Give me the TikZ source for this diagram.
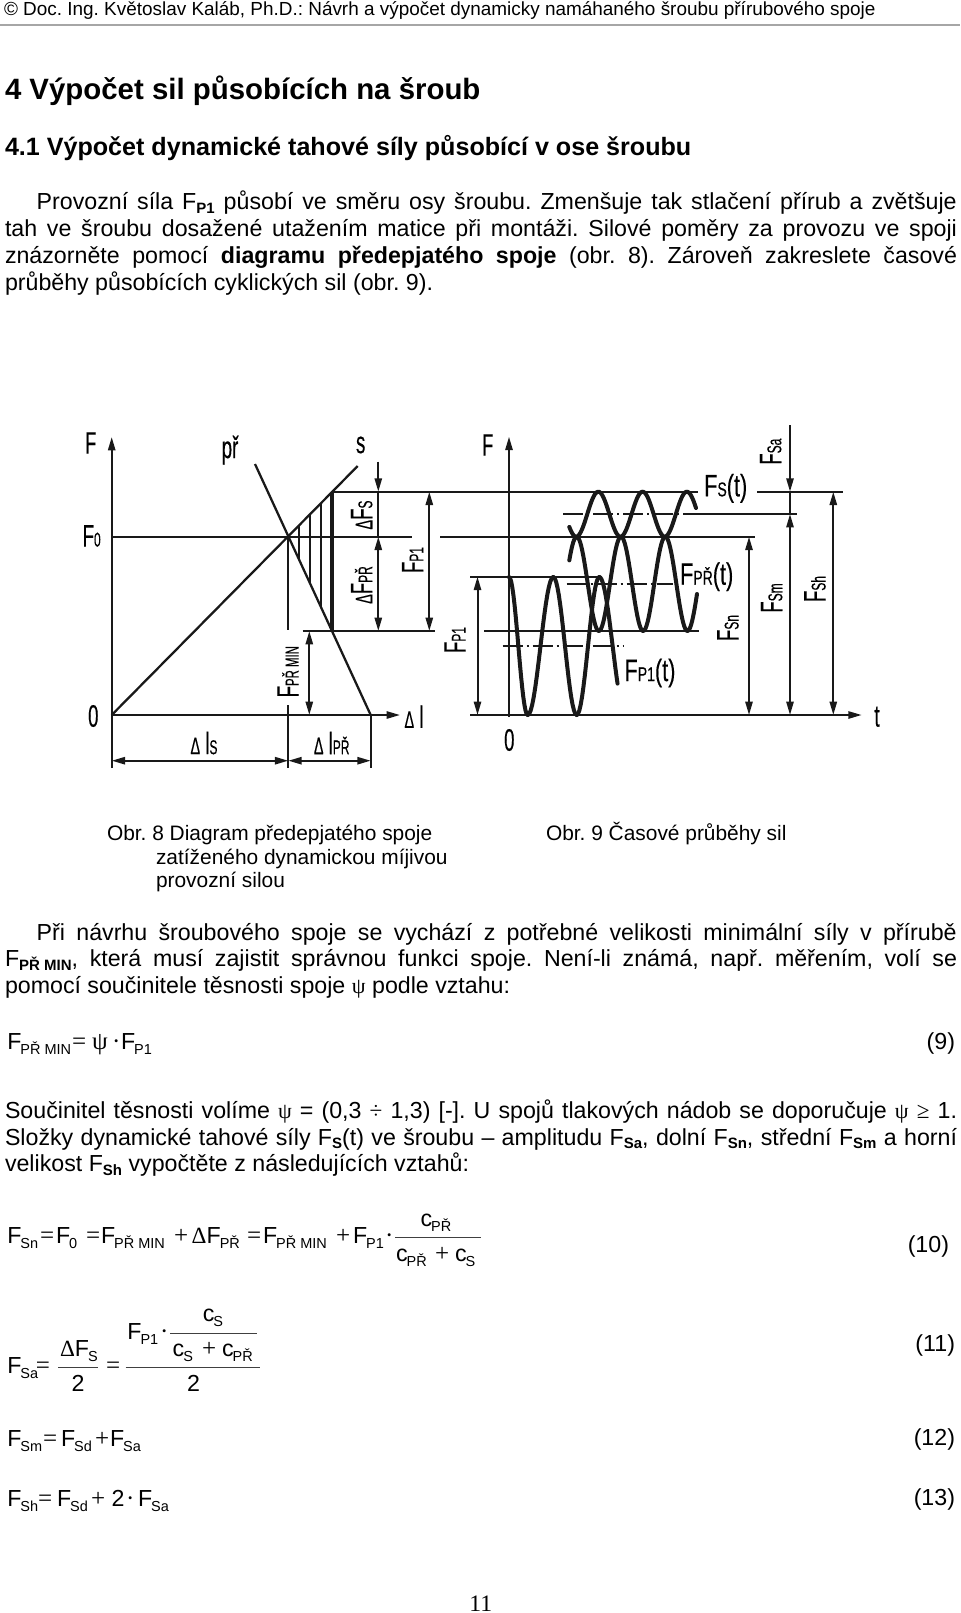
\documentclass[tikz,border=0pt]{standalone}
\usepackage{fontspec}
\usetikzlibrary{arrows.meta}
\setmainfont{Liberation Sans}
\newfontfamily\serf{Liberation Serif}
\newfontfamily\labfont[FakeStretch=0.6,FakeBold=0.3]{Liberation Sans}
\newfontfamily\tlabfont[FakeStretch=0.7,FakeBold=0.3]{Liberation Sans}
\frenchspacing
\newdimen\ux \ux=0.75pt
\newcommand\sz[1]{\fontsize{#1\ux}{#1\ux}\selectfont}
\newcommand\bodyf{\sz{23.2}\frenchspacing}
\newcommand\W[1]{\makebox[#1\ux][s]}
\newcommand\bsub[1]{\raisebox{-3.5\ux}{\sz{15}\bfseries #1}}
\newcommand\msub[1]{\kern-1\ux\raisebox{-5\ux}{\sz{14.5}#1}}
\newcommand\psy{{\serf\sz{22}ψ}}
\newcommand\Lab[2]{{\sz{#1}#2}}
\newcommand\dsub[1]{{\sz{20}#1}}
\newcommand\hw[5]{\draw[wave] plot[domain=0:#5,samples=18] ({#1+(#2-#1)*\x/180},{#3-(#4)*cos(\x)});}
\tikzset{
  txt/.style={anchor=base west,inner sep=0pt,outer sep=0pt},
  body/.style={txt,font=\bodyf},
  capt/.style={txt,font=\sz{20.9}},
  eqr/.style={anchor=base east,inner sep=0pt,outer sep=0pt,font=\bodyf},
  eqc/.style={anchor=base,inner sep=0pt,outer sep=0pt,font=\bodyf},
  sym/.style={txt,font=\serf\sz{25}},
  lab/.style={inner sep=0pt,outer sep=0pt,font=\labfont\sz{31}},
  tlab/.style={inner sep=0pt,outer sep=0pt,font=\tlabfont\sz{31}},
  rlab/.style={lab,rotate=90},
  ln/.style={line width=1.5pt,black!90},
  thk/.style={line width=3pt,black!90},
  wave/.style={line width=3pt,black!90,line cap=round,line join=round},
  ddot/.style={ln,dash pattern=on 15pt off 3pt on 1.5pt off 3pt},
  arr/.style={ln,arrows={Triangle[length=10pt,width=5.4pt]-Triangle[length=10pt,width=5.4pt]}},
  arrE/.style={ln,-{Triangle[length=10pt,width=5.4pt]}},
  frac/.style={line width=0.8pt,black!75},
}
\begin{document}
\begin{tikzpicture}[x=0.75pt,y=-0.75pt]
\useasboundingbox (0,0) rectangle (960,1613);
\fill[white] (0,0) rectangle (960,1613);
% header
\node[txt,font=\sz{18.93}] (hdr) at (4,16) {© Doc. Ing. Květoslav Kaláb, Ph.D.: Návrh a výpočet dynamicky namáhaného šroubu přírubového spoje};
\coordinate (rL) at (0,25); \coordinate (rR) at (960,25);
\draw[black!35,line width=1pt] (rL) -- (rR);
\node[txt,font=\sz{29.4}\bfseries] (h1) at (5,99.5) {4 Výpočet sil působících na šroub};
\node[txt,font=\sz{25.1}\bfseries] (h2) at (5,155) {4.1 Výpočet dynamické tahové síly působící v ose šroubu};
% paragraph 1
\node[body] (a1) at (36.7,209.5) {\W{920}{Provozní síla F\bsub{P1} působí ve směru osy šroubu. Zmenšuje tak stlačení přírub a zvětšuje}};
\node[body] (a2) at (5,236) {\W{952}{tah ve šroubu dosažené utažením matice při montáži. Silové poměry za provozu ve spoji}};
\node[body] (a3) at (5,263) {\W{952}{znázorněte pomocí \textbf{diagramu předepjatého spoje} (obr. 8). Zároveň zakreslete časové}};
\node[body] (a4) at (5,290) {průběhy působících cyklických sil (obr. 9).};
% ---------- diagram
\coordinate (O) at (111.7,715);
\coordinate (Ftop) at (111.7,437);
\coordinate (Fbot) at (111.7,768);
\coordinate (dlEnd) at (400,715);
\coordinate (sEnd) at (357.7,466);
\coordinate (pA) at (255,464);
\coordinate (pB) at (370.7,715);
\coordinate (X) at (288.3,536.7);
\draw[arrE] (Fbot) -- (Ftop);
\draw[arrE] (O) -- (dlEnd);
\draw[ln,line width=1.7pt] (O) -- (sEnd);
\draw[ln,line width=1.7pt] (pA) -- (pB);
\draw[ln] (O |- X) -- (412,536.7);
\draw[ln] (440,536.7) -- (755,536.7);
\draw[ln] (331.7,491.7) -- (698,491.7);
\draw[ln] (757,491.7) -- (842.7,491.7);
\draw[thk] (331.7,491.7) -- (331.7,631);
\draw[ln] (302.7,631) -- (435,631);
\foreach \hx/\ht/\hb in {299.3/525.4/560,310/514.5/583.3,321/503.4/607.2}
  \draw[ln] (\hx,\ht) -- (\hx,\hb);
\draw[ln] (X) -- (288.3,630);
\draw[ln] (288.3,705) -- (288.3,768);
\draw[ln] (370.7,715) -- (370.7,768);
\draw[arr] (309.3,631) -- (309.3,715);
\draw[arr] (111.7,760.7) -- (288.3,760.7);
\draw[arr] (288.3,760.7) -- (370.7,760.7);
\draw[arrE] (378.3,461.7) -- (378.3,491.7);
\draw[ln] (378.3,491.7) -- (378.3,536.7);
\draw[arr] (378.3,536.7) -- (378.3,631);
\draw[arr] (429.3,491.7) -- (429.3,631);
% right diagram
\draw[arr] (477.5,576.7) -- (477.5,715);
\draw[ln] (470,576.7) -- (596.7,576.7);
\draw[arrE] (470,715) -- (861.7,715);
\draw[arrE] (509,717) -- (509,436.7);
\draw[ln] (484,631) -- (699,631);
\draw[ddot] (563,514) -- (696,514);
\draw[ln] (696,514) -- (797,514);
\draw[ddot] (566.7,584.3) -- (673,584.3);
\draw[ddot] (502.7,646) -- (623,646);
\draw[arr] (749,536.7) -- (749,715);
\draw[arrE] (790,425) -- (790,491.7);
\draw[ln] (790,491.7) -- (790,514);
\draw[arr] (790,514) -- (790,715);
\draw[arr] (833.3,491.7) -- (833.3,715);
% waves
\draw[wave] plot[domain=569.3:697,samples=130] (\x,{583.85-47.15*cos(8.1264*(\x-576.7))});
\draw[wave] plot[domain=569.3:696,samples=130] (\x,{514.2-22.5*cos(8.1264*(\x-598.3))});
\hw{509}{527.7}{646}{69}{180}
\hw{527.7}{553.3}{646}{-69}{180}
\hw{553.3}{576.7}{646}{69}{180}
\hw{576.7}{599.3}{646}{-69}{180}
\hw{599.3}{626}{646}{69}{123}
% labels left
\node[lab] (lF) at (90.7,443) {F};
\node[lab] (lF0) at (91.7,536) {F\dsub{0}};
\node[lab] (l0) at (93.3,716) {0};
\node[lab] (lpr) at (230,450) {př};
\node[lab] (ls) at (360.7,445) {s};
\node[rlab] (lDFs) at (361.7,515) {\Lab{24}{Δ}F\dsub{S}};
\node[rlab] (lDFp) at (361.7,585) {\Lab{24}{Δ}F\dsub{PŘ}};
\node[rlab] (lFp1) at (412.7,560) {F\dsub{P1}};
\node[rlab] (lFmin) at (288,671.7) {F{\sz{19}PŘ MIN}};
\node[rlab] (lFp2) at (455,640) {F\dsub{P1}};
\node[lab] (ldl) at (414,716.7) {\Lab{24}{Δ} l};
\node[lab] (ldls) at (204,743) {\Lab{24}{Δ} l\dsub{S}};
\node[lab] (ldlp) at (331.7,743) {\Lab{24}{Δ} l\dsub{PŘ}};
% labels right
\node[lab] (rF) at (487.7,445) {F};
\node[lab] (r0) at (509.3,740) {0};
\node[tlab] (rFs) at (725.7,488.3) {F\dsub{S}(t)};
\node[rlab] (rFa) at (770.7,451.7) {F\dsub{Sa}};
\node[tlab] (rFpt) at (706.7,576.7) {F\dsub{PŘ}(t)};
\node[tlab] (rF1t) at (650,673) {F\dsub{P1}(t)};
\node[rlab] (rFn) at (728,628) {F\dsub{Sn}};
\node[rlab] (rFm) at (771.7,598) {F\dsub{Sm}};
\node[rlab] (rFh) at (815,589) {F\dsub{Sh}};
\node[lab] (rt) at (877,716.7) {t};
% captions
\node[capt] (c1) at (107,840) {Obr. 8 Diagram předepjatého spoje};
\node[capt] (c2) at (156,864) {zatíženého dynamickou míjivou};
\node[capt] (c3) at (156,887) {provozní silou};
\node[capt] (c4) at (546,840) {Obr. 9 Časové průběhy sil};
% paragraph 2
\node[body] (b1) at (36.7,940) {\W{920}{Při návrhu šroubového spoje se vychází z potřebné velikosti minimální síly v přírubě}};
\node[body] (b2) at (5,966.7) {\W{952}{F\bsub{PŘ MIN}, která musí zajistit správnou funkci spoje. Není-li známá, např. měřením, volí se}};
\node[body] (b3) at (5,993.5) {pomocí součinitele těsnosti spoje \psy{} podle vztahu:};
% eq 9
\node[body] (e9a) at (7.3,1049) {F\msub{PŘ MIN}};
\node[sym] (e9b) at (72,1049) {=};
\node[sym] (e9c) at (92,1049) {ψ};
\node[sym] (e9d) at (112,1049) {·};
\node[body] (e9e) at (121,1049) {F\msub{P1}};
\node[eqr] (e9n) at (955,1049) {(9)};
% paragraph 3
\node[body] (d1) at (5,1118) {\W{952}{Součinitel těsnosti volíme \psy{} = (0,3 {\serf ÷} 1,3) [-]. U spojů tlakových nádob se doporučuje \psy{} {\serf ≥} 1.}};
\node[body] (d2) at (5,1145) {\W{952}{Složky dynamické tahové síly F\bsub{S}(t) ve šroubu – amplitudu F\bsub{Sa}, dolní F\bsub{Sn}, střední F\bsub{Sm} a horní}};
\node[body] (d3) at (5,1171.7) {velikost F\bsub{Sh} vypočtěte z následujících vztahů:};
% eq 10
\node[body] (t1) at (7.3,1243) {F\msub{Sn}};
\node[sym] (t2) at (40,1243) {=};
\node[body] (t3) at (56,1243) {F\msub{0}};
\node[sym] (t4) at (86,1243) {=};
\node[body] (t5) at (101,1243) {F\msub{PŘ MIN}};
\node[sym] (t6) at (174,1243) {+};
\node[body] (t7) at (191.7,1243) {{\serf Δ}F\msub{PŘ}};
\node[sym] (t8) at (247,1243) {=};
\node[body] (t9) at (263,1243) {F\msub{PŘ MIN}};
\node[sym] (t10) at (336,1243) {+};
\node[body] (t11) at (353,1243) {F\msub{P1}};
\node[sym] (t12) at (385,1243) {·};
\node[eqc] (t13) at (436,1226.7) {c\msub{PŘ}};
\coordinate (t14a) at (395,1237.7); \coordinate (t14b) at (480.7,1237.7);
\draw[frac] (t14a) -- (t14b);
\node[body] (t15) at (396,1261.7) {c\msub{PŘ}};
\node[sym] (t16) at (435,1261.7) {+};
\node[body] (t17) at (455,1261.7) {c\msub{S}};
\node[eqr] (t10n) at (949,1252.7) {(10)};
% eq 11
\node[body] (u1) at (7.3,1373) {F\msub{Sa}};
\node[sym] (u2) at (36,1373) {=};
\node[body] (u3) at (60,1356.7) {{\serf Δ}F\msub{S}};
\coordinate (u4a) at (58,1367.3); \coordinate (u4b) at (98,1367.3);
\draw[frac] (u4a) -- (u4b);
\node[eqc] (u5) at (78,1391.7) {2};
\node[sym] (u6) at (106,1373) {=};
\coordinate (u7a) at (125.5,1367.3); \coordinate (u7b) at (260,1367.3);
\draw[frac] (u7a) -- (u7b);
\node[body] (u8) at (127.4,1339) {F\msub{P1}};
\node[sym] (u9) at (160,1339) {·};
\coordinate (u10a) at (170,1333.3); \coordinate (u10b) at (257,1333.3);
\draw[frac] (u10a) -- (u10b);
\node[eqc] (u11) at (213,1321.7) {c\msub{S}};
\node[body] (u12) at (172.7,1356.7) {c\msub{S}};
\node[sym] (u13) at (202,1356.7) {+};
\node[body] (u14) at (222,1356.7) {c\msub{PŘ}};
\node[eqc] (u15) at (193.5,1391.7) {2};
\node[eqr] (u11n) at (955,1351) {(11)};
% eq 12
\node[body] (v1) at (7.3,1446.7) {F\msub{Sm}};
\node[sym] (v2) at (43,1446.7) {=};
\node[body] (v3) at (61,1446.7) {F\msub{Sd}};
\node[sym] (v4) at (95,1446.7) {+};
\node[body] (v5) at (110,1446.7) {F\msub{Sa}};
\node[eqr] (v6) at (955,1445) {(12)};
% eq 13
\node[body] (w1) at (7.3,1506.7) {F\msub{Sh}};
\node[sym] (w2) at (38,1506.7) {=};
\node[body] (w3) at (57,1506.7) {F\msub{Sd}};
\node[sym] (w4) at (91,1506.7) {+};
\node[body] (w5) at (111.5,1506.7) {2};
\node[sym] (w6) at (126,1506.7) {·};
\node[body] (w7) at (138,1506.7) {F\msub{Sa}};
\node[eqr] (w8) at (955,1505) {(13)};
% page number
\node[eqc,font=\serf\sz{23.6}] (pg) at (480.7,1611) {11};
\end{tikzpicture}
\end{document}
